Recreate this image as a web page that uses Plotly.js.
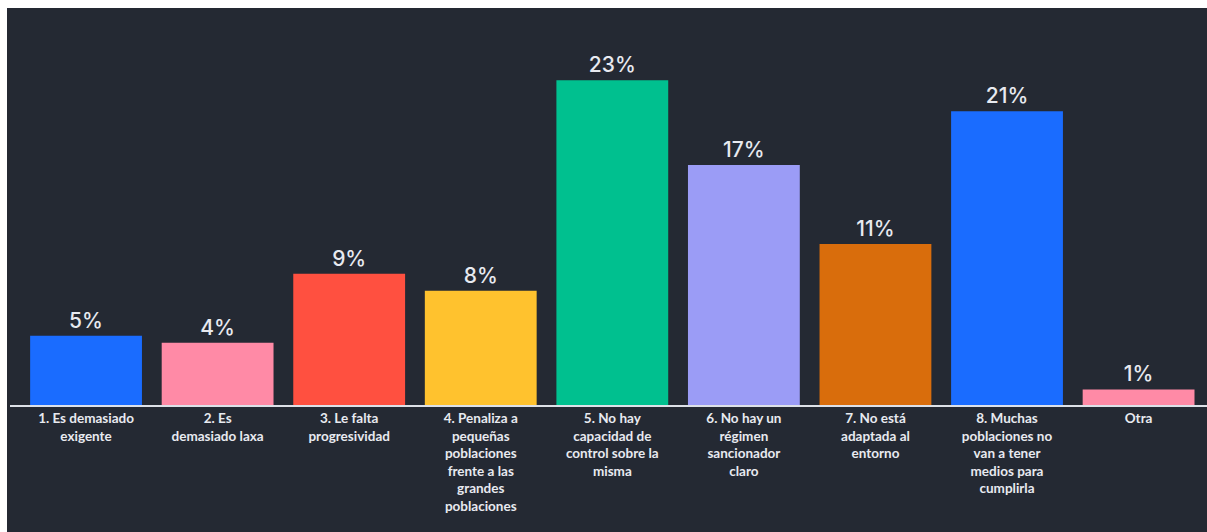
<!DOCTYPE html>
<html>
<head>
<meta charset="utf-8">
<script src="https://cdn.plot.ly/plotly-3.0.1.min.js"></script>
<style>
  html, body { margin: 0; padding: 0; background: #ffffff; width: 1207px; height: 532px; overflow: hidden; }
  #chart { position: absolute; left: 7px; top: 8px; width: 1200px; height: 524px; }
</style>
</head>
<body>
<div id="chart"></div>
<script>
const categories = [
  "1. Es demasiado<br>exigente",
  "2. Es<br>demasiado laxa",
  "3. Le falta<br>progresividad",
  "4. Penaliza a<br>pequeñas<br>poblaciones<br>frente a las<br>grandes<br>poblaciones",
  "5. No hay<br>capacidad de<br>control sobre la<br>misma",
  "6. No hay un<br>régimen<br>sancionador<br>claro",
  "7. No está<br>adaptada al<br>entorno",
  "8. Muchas<br>poblaciones no<br>van a tener<br>medios para<br>cumplirla",
  "Otra"
];
const values = [4.9, 4.4, 9.3, 8.1, 23.0, 17.0, 11.4, 20.8, 1.1];
const valueLabels = ["5%", "4%", "9%", "8%", "23%", "17%", "11%", "21%", "1%"];
const barColors = ["#1a6cff", "#ff8aa6", "#ff5040", "#ffc22e", "#00c08f", "#9b9cf6", "#d96d0c", "#1a6cff", "#ff8aa6"];

const trace = {
  type: "bar",
  x: categories.map((c, i) => i),
  y: values,
  text: valueLabels,
  textposition: "outside",
  cliponaxis: false,
  textfont: { family: "Inter, 'Liberation Sans', sans-serif", size: 21, color: "#e8eaf0", weight: 500 },
  marker: { color: barColors, line: { width: 0 } },
  width: 0.85,
  hoverinfo: "none"
};

const layout = {
  width: 1200,
  height: 524,
  margin: { l: 3, r: 0, t: 44, b: 127 },
  paper_bgcolor: "#242933",
  plot_bgcolor: "#242933",
  showlegend: false,
  xaxis: {
    range: [-0.578, 8.52],
    tickmode: "array",
    tickvals: categories.map((c, i) => i),
    ticktext: categories,
    tickangle: 0,
    showgrid: false,
    zeroline: false,
    showline: true,
    linecolor: "#dde1e8",
    linewidth: 2,
    ticks: "",
    tickfont: { family: "Lato, 'Liberation Sans', sans-serif", size: 13.5, color: "#e8eaf0", weight: "bold" }
  },
  yaxis: {
    range: [0, 25],
    showgrid: false,
    zeroline: false,
    showline: false,
    showticklabels: false,
    ticks: ""
  }
};

Plotly.newPlot("chart", [trace], layout, { displayModeBar: false, staticPlot: true });
</script>
</body>
</html>
